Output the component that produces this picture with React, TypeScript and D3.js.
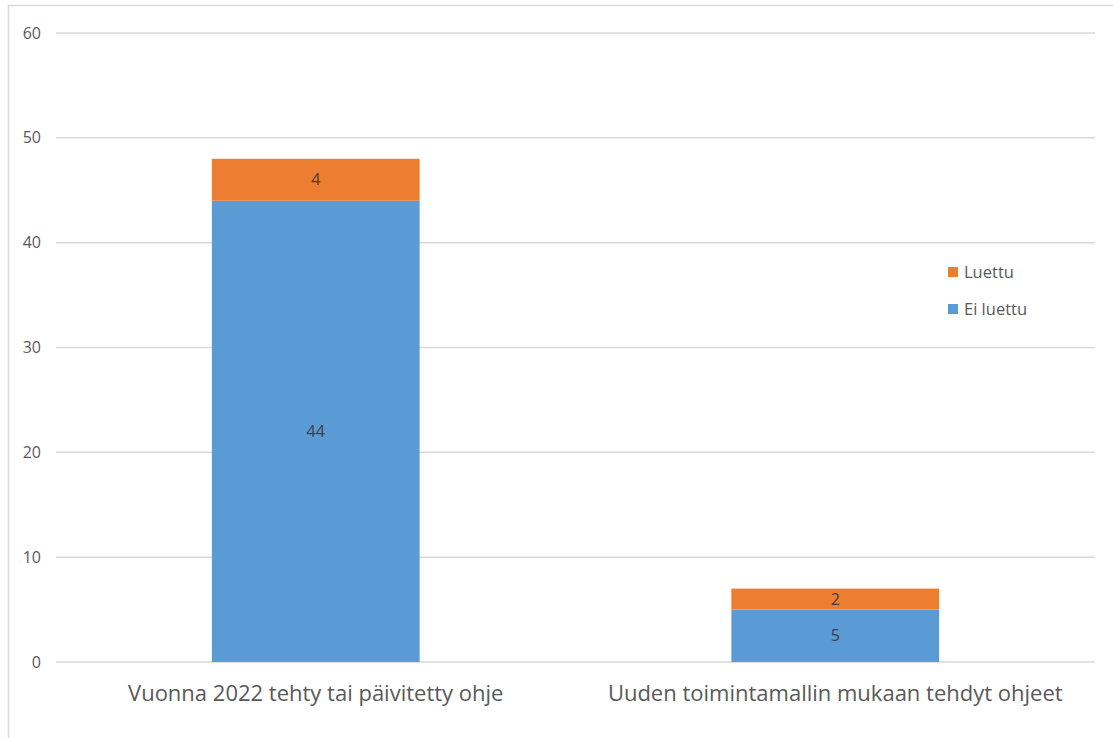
import React from 'react';
import * as d3 from 'd3';

const categories = ['Vuonna 2022 tehty tai päivitetty ohje', 'Uuden toimintamallin mukaan tehdyt ohjeet'];
const eiLuettu = [44, 5];
const luettu = [4, 2];
const seriesNames = ['Ei luettu', 'Luettu'];
const yTicks = [0, 10, 20, 30, 40, 50, 60];

const W = 1113;
const H = 738;
const margin = { left: 56, right: 18, top: 33, bottom: 76 };
const colors = ['#5B9BD5', '#ED7D31'];
const font = '"Open Sans", "Noto Sans", sans-serif';

export default function App() {
  const x = d3
    .scaleBand<string>()
    .domain(categories)
    .range([margin.left, W - margin.right])
    .paddingInner(0.6)
    .paddingOuter(0.3);
  const y = d3.scaleLinear().domain([0, 60]).range([H - margin.bottom, margin.top]);

  const rows = categories.map((c, i) => ({ cat: c, 'Ei luettu': eiLuettu[i], Luettu: luettu[i] }));
  const stacked = d3.stack<any>().keys(seriesNames)(rows);

  return (
    <svg width={W} height={H} style={{ position: 'absolute', left: 0, top: 0, background: '#fff' }}>
      <rect x={8.5} y={5.5} width={W} height={H} fill="#fff" stroke="#D9D9D9" strokeWidth={1.5} />
      {yTicks.map((t) => (
        <g key={t}>
          <line x1={margin.left} x2={W - margin.right} y1={y(t)} y2={y(t)} stroke="#D9D9D9" strokeWidth={1.5} />
          <text x={41} y={y(t)} dy="0.35em" textAnchor="end" fontFamily={font} fontSize={16} fill="#595959">
            {t}
          </text>
        </g>
      ))}
      {stacked.map((s, si) => (
        <g key={s.key}>
          {s.map((d, i) => (
            <g key={i}>
              <rect
                x={x(categories[i])}
                width={x.bandwidth()}
                y={y(d[1])}
                height={y(d[0]) - y(d[1])}
                fill={colors[si]}
              />
              <text
                x={(x(categories[i]) as number) + x.bandwidth() / 2}
                y={(y(d[0]) + y(d[1])) / 2}
                dy="0.35em"
                textAnchor="middle"
                fontFamily={font}
                fontSize={16}
                fill="#404040"
              >
                {d[1] - d[0]}
              </text>
            </g>
          ))}
        </g>
      ))}
      {categories.map((c) => (
        <text
          key={c}
          x={(x(c) as number) + x.bandwidth() / 2}
          y={693}
          dy="0.35em"
          textAnchor="middle"
          fontFamily={font}
          fontSize={22}
          fill="#595959"
        >
          {c}
        </text>
      ))}
      {['Luettu', 'Ei luettu'].map((name, i) => (
        <g key={name} transform={`translate(948,${272 + i * 37})`}>
          <rect x={0} y={-5} width={10} height={10} fill={colors[seriesNames.indexOf(name)]} />
          <text x={16} y={0} dy="0.35em" fontFamily={font} fontSize={16.5} fill="#595959">
            {name}
          </text>
        </g>
      ))}
    </svg>
  );
}
